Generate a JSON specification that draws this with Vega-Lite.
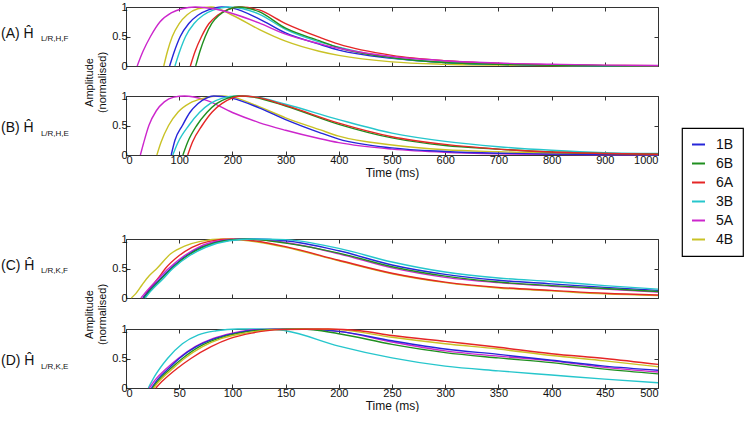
{
"$schema": "https://vega.github.io/schema/vega-lite/v6.json",
"padding": {"left": 0, "top": 0, "right": 0, "bottom": 0},
"datasets": {
"curves": [
{"p":"A","s":"4B","t":71,"v":0},{"p":"A","s":"4B","t":78,"v":0.25},{"p":"A","s":"4B","t":87,"v":0.5},{"p":"A","s":"4B","t":100,"v":0.72},{"p":"A","s":"4B","t":115,"v":0.87},{"p":"A","s":"4B","t":135,"v":0.97},{"p":"A","s":"4B","t":160,"v":1},{"p":"A","s":"4B","t":200,"v":0.86},{"p":"A","s":"4B","t":250,"v":0.62},{"p":"A","s":"4B","t":300,"v":0.42},{"p":"A","s":"4B","t":363,"v":0.25},{"p":"A","s":"4B","t":400,"v":0.18},{"p":"A","s":"4B","t":500,"v":0.07},{"p":"A","s":"4B","t":600,"v":0.03},{"p":"A","s":"4B","t":700,"v":0.015},{"p":"A","s":"4B","t":800,"v":0.006},{"p":"A","s":"4B","t":900,"v":0.002},{"p":"A","s":"4B","t":1000,"v":0},
{"p":"A","s":"1B","t":82,"v":0},{"p":"A","s":"1B","t":91,"v":0.25},{"p":"A","s":"1B","t":102,"v":0.5},{"p":"A","s":"1B","t":118,"v":0.72},{"p":"A","s":"1B","t":135,"v":0.86},{"p":"A","s":"1B","t":155,"v":0.95},{"p":"A","s":"1B","t":180,"v":1},{"p":"A","s":"1B","t":200,"v":0.98},{"p":"A","s":"1B","t":250,"v":0.8},{"p":"A","s":"1B","t":300,"v":0.56},{"p":"A","s":"1B","t":363,"v":0.37},{"p":"A","s":"1B","t":400,"v":0.27},{"p":"A","s":"1B","t":500,"v":0.13},{"p":"A","s":"1B","t":600,"v":0.06},{"p":"A","s":"1B","t":700,"v":0.03},{"p":"A","s":"1B","t":800,"v":0.012},{"p":"A","s":"1B","t":900,"v":0.005},{"p":"A","s":"1B","t":1000,"v":0.002},
{"p":"A","s":"3B","t":92,"v":0},{"p":"A","s":"3B","t":101,"v":0.25},{"p":"A","s":"3B","t":112,"v":0.5},{"p":"A","s":"3B","t":128,"v":0.72},{"p":"A","s":"3B","t":145,"v":0.86},{"p":"A","s":"3B","t":165,"v":0.95},{"p":"A","s":"3B","t":192,"v":1},{"p":"A","s":"3B","t":220,"v":0.97},{"p":"A","s":"3B","t":250,"v":0.88},{"p":"A","s":"3B","t":300,"v":0.62},{"p":"A","s":"3B","t":363,"v":0.41},{"p":"A","s":"3B","t":400,"v":0.32},{"p":"A","s":"3B","t":500,"v":0.14},{"p":"A","s":"3B","t":600,"v":0.06},{"p":"A","s":"3B","t":700,"v":0.03},{"p":"A","s":"3B","t":800,"v":0.012},{"p":"A","s":"3B","t":900,"v":0.005},{"p":"A","s":"3B","t":1000,"v":0.002},
{"p":"A","s":"6A","t":121,"v":0},{"p":"A","s":"6A","t":130,"v":0.25},{"p":"A","s":"6A","t":142,"v":0.5},{"p":"A","s":"6A","t":156,"v":0.72},{"p":"A","s":"6A","t":172,"v":0.86},{"p":"A","s":"6A","t":192,"v":0.96},{"p":"A","s":"6A","t":215,"v":1},{"p":"A","s":"6A","t":250,"v":0.95},{"p":"A","s":"6A","t":300,"v":0.72},{"p":"A","s":"6A","t":363,"v":0.49},{"p":"A","s":"6A","t":400,"v":0.37},{"p":"A","s":"6A","t":500,"v":0.18},{"p":"A","s":"6A","t":600,"v":0.09},{"p":"A","s":"6A","t":700,"v":0.045},{"p":"A","s":"6A","t":800,"v":0.02},{"p":"A","s":"6A","t":900,"v":0.01},{"p":"A","s":"6A","t":1000,"v":0.005},
{"p":"A","s":"6B","t":131,"v":0},{"p":"A","s":"6B","t":139,"v":0.25},{"p":"A","s":"6B","t":149,"v":0.5},{"p":"A","s":"6B","t":161,"v":0.72},{"p":"A","s":"6B","t":175,"v":0.86},{"p":"A","s":"6B","t":193,"v":0.96},{"p":"A","s":"6B","t":212,"v":1},{"p":"A","s":"6B","t":250,"v":0.92},{"p":"A","s":"6B","t":300,"v":0.64},{"p":"A","s":"6B","t":363,"v":0.43},{"p":"A","s":"6B","t":400,"v":0.31},{"p":"A","s":"6B","t":500,"v":0.14},{"p":"A","s":"6B","t":600,"v":0.06},{"p":"A","s":"6B","t":700,"v":0.03},{"p":"A","s":"6B","t":800,"v":0.012},{"p":"A","s":"6B","t":900,"v":0.005},{"p":"A","s":"6B","t":1000,"v":0.002},
{"p":"A","s":"5A","t":21,"v":0},{"p":"A","s":"5A","t":32,"v":0.25},{"p":"A","s":"5A","t":46,"v":0.5},{"p":"A","s":"5A","t":64,"v":0.75},{"p":"A","s":"5A","t":85,"v":0.9},{"p":"A","s":"5A","t":105,"v":0.97},{"p":"A","s":"5A","t":130,"v":1},{"p":"A","s":"5A","t":165,"v":0.97},{"p":"A","s":"5A","t":200,"v":0.89},{"p":"A","s":"5A","t":250,"v":0.73},{"p":"A","s":"5A","t":300,"v":0.54},{"p":"A","s":"5A","t":363,"v":0.38},{"p":"A","s":"5A","t":400,"v":0.3},{"p":"A","s":"5A","t":500,"v":0.16},{"p":"A","s":"5A","t":600,"v":0.09},{"p":"A","s":"5A","t":700,"v":0.05},{"p":"A","s":"5A","t":800,"v":0.03},{"p":"A","s":"5A","t":900,"v":0.015},{"p":"A","s":"5A","t":1000,"v":0.008},
{"p":"B","s":"5A","t":27,"v":0},{"p":"B","s":"5A","t":33,"v":0.2},{"p":"B","s":"5A","t":43,"v":0.5},{"p":"B","s":"5A","t":57,"v":0.75},{"p":"B","s":"5A","t":72,"v":0.9},{"p":"B","s":"5A","t":90,"v":0.98},{"p":"B","s":"5A","t":110,"v":1},{"p":"B","s":"5A","t":150,"v":0.93},{"p":"B","s":"5A","t":200,"v":0.72},{"p":"B","s":"5A","t":250,"v":0.55},{"p":"B","s":"5A","t":300,"v":0.42},{"p":"B","s":"5A","t":363,"v":0.28},{"p":"B","s":"5A","t":400,"v":0.21},{"p":"B","s":"5A","t":500,"v":0.1},{"p":"B","s":"5A","t":600,"v":0.045},{"p":"B","s":"5A","t":700,"v":0.02},{"p":"B","s":"5A","t":800,"v":0.01},{"p":"B","s":"5A","t":900,"v":0.005},{"p":"B","s":"5A","t":1000,"v":0.002},
{"p":"B","s":"4B","t":58,"v":0},{"p":"B","s":"4B","t":66,"v":0.22},{"p":"B","s":"4B","t":80,"v":0.5},{"p":"B","s":"4B","t":98,"v":0.73},{"p":"B","s":"4B","t":120,"v":0.88},{"p":"B","s":"4B","t":145,"v":0.96},{"p":"B","s":"4B","t":175,"v":1},{"p":"B","s":"4B","t":200,"v":0.98},{"p":"B","s":"4B","t":250,"v":0.82},{"p":"B","s":"4B","t":300,"v":0.63},{"p":"B","s":"4B","t":364,"v":0.43},{"p":"B","s":"4B","t":400,"v":0.32},{"p":"B","s":"4B","t":500,"v":0.17},{"p":"B","s":"4B","t":600,"v":0.09},{"p":"B","s":"4B","t":700,"v":0.055},{"p":"B","s":"4B","t":800,"v":0.03},{"p":"B","s":"4B","t":900,"v":0.015},{"p":"B","s":"4B","t":1000,"v":0.008},
{"p":"B","s":"1B","t":85,"v":0},{"p":"B","s":"1B","t":92,"v":0.25},{"p":"B","s":"1B","t":106,"v":0.5},{"p":"B","s":"1B","t":120,"v":0.72},{"p":"B","s":"1B","t":135,"v":0.87},{"p":"B","s":"1B","t":150,"v":0.96},{"p":"B","s":"1B","t":165,"v":1},{"p":"B","s":"1B","t":200,"v":0.96},{"p":"B","s":"1B","t":250,"v":0.8},{"p":"B","s":"1B","t":300,"v":0.6},{"p":"B","s":"1B","t":364,"v":0.38},{"p":"B","s":"1B","t":400,"v":0.27},{"p":"B","s":"1B","t":500,"v":0.12},{"p":"B","s":"1B","t":600,"v":0.06},{"p":"B","s":"1B","t":700,"v":0.03},{"p":"B","s":"1B","t":800,"v":0.015},{"p":"B","s":"1B","t":900,"v":0.008},{"p":"B","s":"1B","t":1000,"v":0.004},
{"p":"B","s":"3B","t":88,"v":0},{"p":"B","s":"3B","t":97,"v":0.2},{"p":"B","s":"3B","t":118,"v":0.5},{"p":"B","s":"3B","t":138,"v":0.72},{"p":"B","s":"3B","t":158,"v":0.87},{"p":"B","s":"3B","t":180,"v":0.96},{"p":"B","s":"3B","t":210,"v":1},{"p":"B","s":"3B","t":240,"v":0.99},{"p":"B","s":"3B","t":300,"v":0.86},{"p":"B","s":"3B","t":400,"v":0.6},{"p":"B","s":"3B","t":500,"v":0.37},{"p":"B","s":"3B","t":600,"v":0.23},{"p":"B","s":"3B","t":700,"v":0.14},{"p":"B","s":"3B","t":800,"v":0.08},{"p":"B","s":"3B","t":900,"v":0.04},{"p":"B","s":"3B","t":1000,"v":0.025},
{"p":"B","s":"6B","t":107,"v":0},{"p":"B","s":"6B","t":116,"v":0.22},{"p":"B","s":"6B","t":133,"v":0.5},{"p":"B","s":"6B","t":152,"v":0.72},{"p":"B","s":"6B","t":170,"v":0.87},{"p":"B","s":"6B","t":190,"v":0.96},{"p":"B","s":"6B","t":212,"v":1},{"p":"B","s":"6B","t":240,"v":0.98},{"p":"B","s":"6B","t":300,"v":0.83},{"p":"B","s":"6B","t":400,"v":0.52},{"p":"B","s":"6B","t":500,"v":0.29},{"p":"B","s":"6B","t":600,"v":0.16},{"p":"B","s":"6B","t":700,"v":0.1},{"p":"B","s":"6B","t":800,"v":0.05},{"p":"B","s":"6B","t":900,"v":0.025},{"p":"B","s":"6B","t":1000,"v":0.012},
{"p":"B","s":"6A","t":116,"v":0},{"p":"B","s":"6A","t":125,"v":0.22},{"p":"B","s":"6A","t":143,"v":0.5},{"p":"B","s":"6A","t":162,"v":0.73},{"p":"B","s":"6A","t":180,"v":0.87},{"p":"B","s":"6A","t":198,"v":0.96},{"p":"B","s":"6A","t":218,"v":1},{"p":"B","s":"6A","t":245,"v":0.98},{"p":"B","s":"6A","t":300,"v":0.84},{"p":"B","s":"6A","t":400,"v":0.54},{"p":"B","s":"6A","t":500,"v":0.31},{"p":"B","s":"6A","t":600,"v":0.18},{"p":"B","s":"6A","t":700,"v":0.1},{"p":"B","s":"6A","t":800,"v":0.05},{"p":"B","s":"6A","t":900,"v":0.025},{"p":"B","s":"6A","t":1000,"v":0.012},
{"p":"C","s":"4B","t":5,"v":0},{"p":"C","s":"4B","t":9,"v":0.07},{"p":"C","s":"4B","t":15,"v":0.22},{"p":"C","s":"4B","t":22,"v":0.38},{"p":"C","s":"4B","t":29,"v":0.5},{"p":"C","s":"4B","t":42,"v":0.75},{"p":"C","s":"4B","t":55,"v":0.88},{"p":"C","s":"4B","t":70,"v":0.96},{"p":"C","s":"4B","t":92,"v":1},{"p":"C","s":"4B","t":115,"v":0.97},{"p":"C","s":"4B","t":150,"v":0.86},{"p":"C","s":"4B","t":200,"v":0.63},{"p":"C","s":"4B","t":250,"v":0.41},{"p":"C","s":"4B","t":300,"v":0.26},{"p":"C","s":"4B","t":350,"v":0.17},{"p":"C","s":"4B","t":400,"v":0.12},{"p":"C","s":"4B","t":450,"v":0.07},{"p":"C","s":"4B","t":500,"v":0.04},
{"p":"C","s":"6A","t":16,"v":0},{"p":"C","s":"6A","t":22,"v":0.15},{"p":"C","s":"6A","t":30,"v":0.33},{"p":"C","s":"6A","t":37,"v":0.5},{"p":"C","s":"6A","t":50,"v":0.72},{"p":"C","s":"6A","t":62,"v":0.86},{"p":"C","s":"6A","t":78,"v":0.96},{"p":"C","s":"6A","t":100,"v":1},{"p":"C","s":"6A","t":120,"v":0.97},{"p":"C","s":"6A","t":150,"v":0.87},{"p":"C","s":"6A","t":200,"v":0.64},{"p":"C","s":"6A","t":250,"v":0.42},{"p":"C","s":"6A","t":300,"v":0.27},{"p":"C","s":"6A","t":350,"v":0.18},{"p":"C","s":"6A","t":400,"v":0.13},{"p":"C","s":"6A","t":450,"v":0.08},{"p":"C","s":"6A","t":500,"v":0.05},
{"p":"C","s":"5A","t":14,"v":0},{"p":"C","s":"5A","t":21,"v":0.15},{"p":"C","s":"5A","t":30,"v":0.32},{"p":"C","s":"5A","t":40,"v":0.5},{"p":"C","s":"5A","t":55,"v":0.72},{"p":"C","s":"5A","t":68,"v":0.86},{"p":"C","s":"5A","t":88,"v":0.97},{"p":"C","s":"5A","t":110,"v":1},{"p":"C","s":"5A","t":150,"v":0.94},{"p":"C","s":"5A","t":200,"v":0.75},{"p":"C","s":"5A","t":250,"v":0.51},{"p":"C","s":"5A","t":300,"v":0.35},{"p":"C","s":"5A","t":350,"v":0.26},{"p":"C","s":"5A","t":400,"v":0.2},{"p":"C","s":"5A","t":450,"v":0.15},{"p":"C","s":"5A","t":500,"v":0.1},
{"p":"C","s":"1B","t":16,"v":0},{"p":"C","s":"1B","t":22,"v":0.13},{"p":"C","s":"1B","t":32,"v":0.32},{"p":"C","s":"1B","t":42,"v":0.5},{"p":"C","s":"1B","t":57,"v":0.72},{"p":"C","s":"1B","t":71,"v":0.86},{"p":"C","s":"1B","t":92,"v":0.97},{"p":"C","s":"1B","t":115,"v":1},{"p":"C","s":"1B","t":150,"v":0.97},{"p":"C","s":"1B","t":200,"v":0.8},{"p":"C","s":"1B","t":250,"v":0.56},{"p":"C","s":"1B","t":300,"v":0.4},{"p":"C","s":"1B","t":350,"v":0.3},{"p":"C","s":"1B","t":400,"v":0.24},{"p":"C","s":"1B","t":450,"v":0.18},{"p":"C","s":"1B","t":500,"v":0.13},
{"p":"C","s":"6B","t":17,"v":0},{"p":"C","s":"6B","t":23,"v":0.13},{"p":"C","s":"6B","t":33,"v":0.32},{"p":"C","s":"6B","t":43,"v":0.5},{"p":"C","s":"6B","t":58,"v":0.72},{"p":"C","s":"6B","t":72,"v":0.86},{"p":"C","s":"6B","t":93,"v":0.97},{"p":"C","s":"6B","t":112,"v":1},{"p":"C","s":"6B","t":150,"v":0.93},{"p":"C","s":"6B","t":200,"v":0.76},{"p":"C","s":"6B","t":250,"v":0.53},{"p":"C","s":"6B","t":300,"v":0.37},{"p":"C","s":"6B","t":350,"v":0.27},{"p":"C","s":"6B","t":400,"v":0.21},{"p":"C","s":"6B","t":450,"v":0.16},{"p":"C","s":"6B","t":500,"v":0.11},
{"p":"C","s":"3B","t":18,"v":0},{"p":"C","s":"3B","t":24,"v":0.13},{"p":"C","s":"3B","t":34,"v":0.31},{"p":"C","s":"3B","t":44,"v":0.5},{"p":"C","s":"3B","t":60,"v":0.72},{"p":"C","s":"3B","t":75,"v":0.86},{"p":"C","s":"3B","t":97,"v":0.97},{"p":"C","s":"3B","t":120,"v":1},{"p":"C","s":"3B","t":150,"v":0.99},{"p":"C","s":"3B","t":200,"v":0.84},{"p":"C","s":"3B","t":250,"v":0.61},{"p":"C","s":"3B","t":300,"v":0.44},{"p":"C","s":"3B","t":350,"v":0.34},{"p":"C","s":"3B","t":400,"v":0.28},{"p":"C","s":"3B","t":450,"v":0.21},{"p":"C","s":"3B","t":500,"v":0.15},
{"p":"D","s":"3B","t":21,"v":0},{"p":"D","s":"3B","t":27,"v":0.2},{"p":"D","s":"3B","t":39,"v":0.5},{"p":"D","s":"3B","t":53,"v":0.75},{"p":"D","s":"3B","t":68,"v":0.9},{"p":"D","s":"3B","t":85,"v":0.97},{"p":"D","s":"3B","t":105,"v":1},{"p":"D","s":"3B","t":135,"v":1},{"p":"D","s":"3B","t":150,"v":0.97},{"p":"D","s":"3B","t":200,"v":0.71},{"p":"D","s":"3B","t":250,"v":0.51},{"p":"D","s":"3B","t":300,"v":0.37},{"p":"D","s":"3B","t":350,"v":0.29},{"p":"D","s":"3B","t":400,"v":0.22},{"p":"D","s":"3B","t":450,"v":0.15},{"p":"D","s":"3B","t":500,"v":0.09},
{"p":"D","s":"5A","t":22,"v":0},{"p":"D","s":"5A","t":28,"v":0.15},{"p":"D","s":"5A","t":38,"v":0.33},{"p":"D","s":"5A","t":49,"v":0.5},{"p":"D","s":"5A","t":65,"v":0.7},{"p":"D","s":"5A","t":82,"v":0.84},{"p":"D","s":"5A","t":100,"v":0.93},{"p":"D","s":"5A","t":122,"v":0.99},{"p":"D","s":"5A","t":160,"v":1},{"p":"D","s":"5A","t":200,"v":0.96},{"p":"D","s":"5A","t":250,"v":0.78},{"p":"D","s":"5A","t":300,"v":0.63},{"p":"D","s":"5A","t":350,"v":0.54},{"p":"D","s":"5A","t":400,"v":0.46},{"p":"D","s":"5A","t":450,"v":0.35},{"p":"D","s":"5A","t":500,"v":0.27},
{"p":"D","s":"1B","t":24,"v":0},{"p":"D","s":"1B","t":30,"v":0.15},{"p":"D","s":"1B","t":40,"v":0.33},{"p":"D","s":"1B","t":50,"v":0.5},{"p":"D","s":"1B","t":66,"v":0.7},{"p":"D","s":"1B","t":84,"v":0.84},{"p":"D","s":"1B","t":103,"v":0.93},{"p":"D","s":"1B","t":130,"v":0.99},{"p":"D","s":"1B","t":170,"v":1},{"p":"D","s":"1B","t":200,"v":0.96},{"p":"D","s":"1B","t":250,"v":0.8},{"p":"D","s":"1B","t":300,"v":0.66},{"p":"D","s":"1B","t":350,"v":0.57},{"p":"D","s":"1B","t":400,"v":0.47},{"p":"D","s":"1B","t":450,"v":0.37},{"p":"D","s":"1B","t":500,"v":0.3},
{"p":"D","s":"6B","t":25,"v":0},{"p":"D","s":"6B","t":31,"v":0.14},{"p":"D","s":"6B","t":42,"v":0.33},{"p":"D","s":"6B","t":53,"v":0.5},{"p":"D","s":"6B","t":69,"v":0.7},{"p":"D","s":"6B","t":87,"v":0.84},{"p":"D","s":"6B","t":106,"v":0.93},{"p":"D","s":"6B","t":133,"v":0.99},{"p":"D","s":"6B","t":165,"v":1},{"p":"D","s":"6B","t":200,"v":0.92},{"p":"D","s":"6B","t":250,"v":0.74},{"p":"D","s":"6B","t":300,"v":0.6},{"p":"D","s":"6B","t":350,"v":0.51},{"p":"D","s":"6B","t":400,"v":0.43},{"p":"D","s":"6B","t":450,"v":0.32},{"p":"D","s":"6B","t":500,"v":0.24},
{"p":"D","s":"4B","t":26,"v":0},{"p":"D","s":"4B","t":32,"v":0.13},{"p":"D","s":"4B","t":44,"v":0.33},{"p":"D","s":"4B","t":55,"v":0.5},{"p":"D","s":"4B","t":72,"v":0.7},{"p":"D","s":"4B","t":90,"v":0.84},{"p":"D","s":"4B","t":112,"v":0.93},{"p":"D","s":"4B","t":140,"v":0.99},{"p":"D","s":"4B","t":180,"v":1},{"p":"D","s":"4B","t":200,"v":0.99},{"p":"D","s":"4B","t":250,"v":0.86},{"p":"D","s":"4B","t":300,"v":0.75},{"p":"D","s":"4B","t":350,"v":0.66},{"p":"D","s":"4B","t":400,"v":0.55},{"p":"D","s":"4B","t":450,"v":0.46},{"p":"D","s":"4B","t":500,"v":0.36},
{"p":"D","s":"6A","t":28,"v":0},{"p":"D","s":"6A","t":35,"v":0.13},{"p":"D","s":"6A","t":48,"v":0.33},{"p":"D","s":"6A","t":61,"v":0.5},{"p":"D","s":"6A","t":80,"v":0.7},{"p":"D","s":"6A","t":98,"v":0.84},{"p":"D","s":"6A","t":118,"v":0.93},{"p":"D","s":"6A","t":144,"v":0.99},{"p":"D","s":"6A","t":190,"v":1},{"p":"D","s":"6A","t":220,"v":0.97},{"p":"D","s":"6A","t":250,"v":0.89},{"p":"D","s":"6A","t":300,"v":0.79},{"p":"D","s":"6A","t":350,"v":0.69},{"p":"D","s":"6A","t":400,"v":0.58},{"p":"D","s":"6A","t":450,"v":0.5},{"p":"D","s":"6A","t":500,"v":0.4}
]
},
"vconcat": [
{
"vconcat": [
{
"width": 532, "height": 59,
"layer": [
{"data": {"name": "curves"}, "transform": [{"filter": "datum.p == 'A'"}],
 "mark": {"type": "line", "strokeWidth": 1.4, "interpolate": "monotone"},
 "encoding": {
  "x": {"field": "t", "type": "quantitative", "scale": {"domain": [0, 1000], "nice": false}, "axis": {"orient": "bottom", "labels": false, "title": null, "values": [0,100,200,300,400,500,600,700,800,900,1000]}},
  "y": {"field": "v", "type": "quantitative", "scale": {"domain": [0, 1], "nice": false}, "axis": {"orient": "left", "values": [0, 0.5, 1], "format": "~g", "title": ["Amplitude", "(normalised)"], "titleX": -32, "titleY": 75, "titleFontSize": 11, "titleLineHeight": 13}},
  "color": {"field": "s", "type": "nominal", "scale": {"domain": ["1B","6B","6A","3B","5A","4B"], "range": ["#2626d9","#1f8f1f","#e52626","#26c6cc","#cc26cc","#c9c226"]}, "legend": {"title": null}}
 }},
{"data": {"values": [{"label": "(A)  Ĥ"}]},
 "mark": {"type": "text", "align": "left", "baseline": "middle", "fontSize": 14, "color": "#111"},
 "encoding": {
  "text": {"field": "label"},
  "x": {"datum": -235, "type": "quantitative", "scale": {"domain": [0, 1000], "nice": false}, "axis": {"orient": "top", "labels": false, "title": null, "values": [0,100,200,300,400,500,600,700,800,900,1000]}},
  "y": {"datum": 0.55, "type": "quantitative", "scale": {"domain": [0, 1], "nice": false}, "axis": {"orient": "right", "labels": false, "title": null, "values": [0, 0.5, 1]}}
 }},
{"data": {"values": [{"label": "L/R,H,F"}]},
 "mark": {"type": "text", "align": "left", "baseline": "middle", "fontSize": 8, "color": "#111"},
 "encoding": {
  "text": {"field": "label"},
  "x": {"datum": -160, "type": "quantitative", "scale": {"domain": [0, 1000], "nice": false}, "axis": null},
  "y": {"datum": 0.45, "type": "quantitative", "scale": {"domain": [0, 1], "nice": false}, "axis": null}
 }}
],
"resolve": {"axis": {"x": "independent", "y": "independent"}}
},
{
"width": 532, "height": 59,
"layer": [
{"data": {"name": "curves"}, "transform": [{"filter": "datum.p == 'B'"}],
 "mark": {"type": "line", "strokeWidth": 1.4, "interpolate": "monotone"},
 "encoding": {
  "x": {"field": "t", "type": "quantitative", "scale": {"domain": [0, 1000], "nice": false}, "axis": {"orient": "bottom", "format": "d", "title": "Time (ms)", "values": [0,100,200,300,400,500,600,700,800,900,1000]}},
  "y": {"field": "v", "type": "quantitative", "scale": {"domain": [0, 1], "nice": false}, "axis": {"orient": "left", "values": [0, 0.5, 1], "format": "~g", "title": null}},
  "color": {"field": "s", "type": "nominal", "scale": {"domain": ["1B","6B","6A","3B","5A","4B"], "range": ["#2626d9","#1f8f1f","#e52626","#26c6cc","#cc26cc","#c9c226"]}, "legend": {"title": null}}
 }},
{"data": {"values": [{"label": "(B)  Ĥ"}]},
 "mark": {"type": "text", "align": "left", "baseline": "middle", "fontSize": 14, "color": "#111"},
 "encoding": {
  "text": {"field": "label"},
  "x": {"datum": -235, "type": "quantitative", "scale": {"domain": [0, 1000], "nice": false}, "axis": {"orient": "top", "labels": false, "title": null, "values": [0,100,200,300,400,500,600,700,800,900,1000]}},
  "y": {"datum": 0.45, "type": "quantitative", "scale": {"domain": [0, 1], "nice": false}, "axis": {"orient": "right", "labels": false, "title": null, "values": [0, 0.5, 1]}}
 }},
{"data": {"values": [{"label": "L/R,H,E"}]},
 "mark": {"type": "text", "align": "left", "baseline": "middle", "fontSize": 8, "color": "#111"},
 "encoding": {
  "text": {"field": "label"},
  "x": {"datum": -160, "type": "quantitative", "scale": {"domain": [0, 1000], "nice": false}, "axis": null},
  "y": {"datum": 0.35, "type": "quantitative", "scale": {"domain": [0, 1], "nice": false}, "axis": null}
 }}
],
"resolve": {"axis": {"x": "independent", "y": "independent"}}
}
],
"spacing": 30,
"bounds": "flush"
},
{
"vconcat": [
{
"width": 532, "height": 59,
"layer": [
{"data": {"name": "curves"}, "transform": [{"filter": "datum.p == 'C'"}],
 "mark": {"type": "line", "strokeWidth": 1.4, "interpolate": "monotone"},
 "encoding": {
  "x": {"field": "t", "type": "quantitative", "scale": {"domain": [0, 500], "nice": false}, "axis": {"orient": "bottom", "labels": false, "title": null, "values": [0,50,100,150,200,250,300,350,400,450,500]}},
  "y": {"field": "v", "type": "quantitative", "scale": {"domain": [0, 1], "nice": false}, "axis": {"orient": "left", "values": [0, 0.5, 1], "format": "~g", "title": ["Amplitude", "(normalised)"], "titleX": -32, "titleY": 75, "titleFontSize": 11, "titleLineHeight": 13}},
  "color": {"field": "s", "type": "nominal", "scale": {"domain": ["1B","6B","6A","3B","5A","4B"], "range": ["#2626d9","#1f8f1f","#e52626","#26c6cc","#cc26cc","#c9c226"]}, "legend": {"title": null}}
 }},
{"data": {"values": [{"label": "(C)  Ĥ"}]},
 "mark": {"type": "text", "align": "left", "baseline": "middle", "fontSize": 14, "color": "#111"},
 "encoding": {
  "text": {"field": "label"},
  "x": {"datum": -117.5, "type": "quantitative", "scale": {"domain": [0, 500], "nice": false}, "axis": {"orient": "top", "labels": false, "title": null, "values": [0,50,100,150,200,250,300,350,400,450,500]}},
  "y": {"datum": 0.55, "type": "quantitative", "scale": {"domain": [0, 1], "nice": false}, "axis": {"orient": "right", "labels": false, "title": null, "values": [0, 0.5, 1]}}
 }},
{"data": {"values": [{"label": "L/R,K,F"}]},
 "mark": {"type": "text", "align": "left", "baseline": "middle", "fontSize": 8, "color": "#111"},
 "encoding": {
  "text": {"field": "label"},
  "x": {"datum": -80, "type": "quantitative", "scale": {"domain": [0, 500], "nice": false}, "axis": null},
  "y": {"datum": 0.45, "type": "quantitative", "scale": {"domain": [0, 1], "nice": false}, "axis": null}
 }}
],
"resolve": {"axis": {"x": "independent", "y": "independent"}}
},
{
"width": 532, "height": 59,
"layer": [
{"data": {"name": "curves"}, "transform": [{"filter": "datum.p == 'D'"}],
 "mark": {"type": "line", "strokeWidth": 1.4, "interpolate": "monotone"},
 "encoding": {
  "x": {"field": "t", "type": "quantitative", "scale": {"domain": [0, 500], "nice": false}, "axis": {"orient": "bottom", "format": "d", "title": "Time (ms)", "values": [0,50,100,150,200,250,300,350,400,450,500]}},
  "y": {"field": "v", "type": "quantitative", "scale": {"domain": [0, 1], "nice": false}, "axis": {"orient": "left", "values": [0, 0.5, 1], "format": "~g", "title": null}},
  "color": {"field": "s", "type": "nominal", "scale": {"domain": ["1B","6B","6A","3B","5A","4B"], "range": ["#2626d9","#1f8f1f","#e52626","#26c6cc","#cc26cc","#c9c226"]}, "legend": {"title": null}}
 }},
{"data": {"values": [{"label": "(D)  Ĥ"}]},
 "mark": {"type": "text", "align": "left", "baseline": "middle", "fontSize": 14, "color": "#111"},
 "encoding": {
  "text": {"field": "label"},
  "x": {"datum": -117.5, "type": "quantitative", "scale": {"domain": [0, 500], "nice": false}, "axis": {"orient": "top", "labels": false, "title": null, "values": [0,50,100,150,200,250,300,350,400,450,500]}},
  "y": {"datum": 0.45, "type": "quantitative", "scale": {"domain": [0, 1], "nice": false}, "axis": {"orient": "right", "labels": false, "title": null, "values": [0, 0.5, 1]}}
 }},
{"data": {"values": [{"label": "L/R,K,E"}]},
 "mark": {"type": "text", "align": "left", "baseline": "middle", "fontSize": 8, "color": "#111"},
 "encoding": {
  "text": {"field": "label"},
  "x": {"datum": -80, "type": "quantitative", "scale": {"domain": [0, 500], "nice": false}, "axis": null},
  "y": {"datum": 0.35, "type": "quantitative", "scale": {"domain": [0, 1], "nice": false}, "axis": null}
 }}
],
"resolve": {"axis": {"x": "independent", "y": "independent"}}
}
],
"spacing": 31,
"bounds": "flush"
}
],
"spacing": 53,
"config": {
 "font": "Liberation Sans",
 "view": {"stroke": "#333", "strokeWidth": 1},
 "axis": {"domain": false, "grid": false, "tickSize": -4, "tickColor": "#333", "labelFontSize": 11, "labelColor": "#111", "labelPadding": 3, "titleFontSize": 12, "titleFontWeight": "normal", "titleColor": "#111", "titlePadding": 2},
 "legend": {"orient": "none", "legendX": 556, "legendY": 121, "strokeColor": "#000", "strokeWidth": 1.2, "padding": 9, "symbolType": "stroke", "symbolSize": 169, "symbolStrokeWidth": 2, "labelFontSize": 14, "labelColor": "#111", "labelOffset": 10, "rowPadding": 4}
}
}
